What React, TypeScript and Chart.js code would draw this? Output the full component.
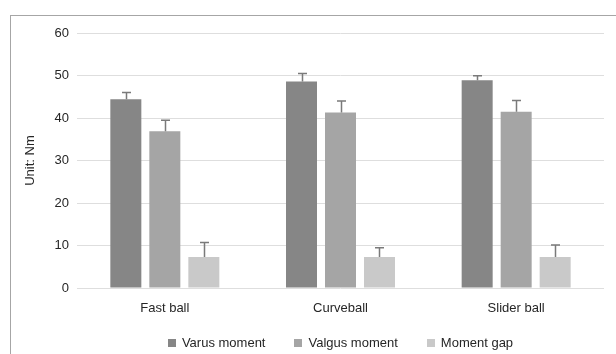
import React, { useEffect, useRef } from "react";
import { Chart, registerables } from "chart.js";

Chart.register(...registerables);

const categories = ["Fast ball", "Curveball", "Slider ball"];
const seriesNames = ["Varus moment", "Valgus moment", "Moment gap"];
const varusValues = [44.4, 48.6, 48.9];
const valgusValues = [36.9, 41.3, 41.5];
const gapValues = [7.3, 7.3, 7.3];
const varusErrors = [1.6, 1.9, 1.05];
const valgusErrors = [2.6, 2.7, 2.6];
const gapErrors = [3.4, 2.2, 2.8];
const yTicks = [0, 10, 20, 30, 40, 50, 60];
const yTitle = "Unit: Nm";

const colors = ["#868686", "#a5a5a5", "#c9c9c9"];
const FONT = "'Liberation Sans', Arial, sans-serif";
const TEXT = "#262626";

const errorBarPlugin = {
  id: "errorBars",
  afterDatasetsDraw(chart: any) {
    const ctx = chart.ctx;
    const y = chart.scales.y;
    ctx.save();
    ctx.strokeStyle = "#7a7a7a";
    ctx.lineWidth = 1.5;
    chart.data.datasets.forEach((ds: any, i: number) => {
      const meta = chart.getDatasetMeta(i);
      meta.data.forEach((bar: any, j: number) => {
        const v = ds.data[j];
        const e = ds.errors[j];
        const x = Math.round(bar.x) + 0.5;
        const y0 = y.getPixelForValue(v);
        const y1 = y.getPixelForValue(v + e);
        ctx.beginPath();
        ctx.moveTo(x, y0);
        ctx.lineTo(x, y1);
        ctx.moveTo(x - 4.5, y1);
        ctx.lineTo(x + 4.5, y1);
        ctx.stroke();
      });
    });
    ctx.restore();
  },
};

const legendPlugin = {
  id: "customLegend",
  afterDraw(chart: any) {
    const ctx = chart.ctx;
    const area = chart.chartArea;
    ctx.save();
    ctx.font = `13px ${FONT}`;
    ctx.textBaseline = "middle";
    const box = 8;
    const gapBoxText = 6;
    const gapItems = 29;
    const items = chart.data.datasets.map((ds: any) => ({
      label: ds.label,
      color: ds.backgroundColor,
      w: box + gapBoxText + ctx.measureText(ds.label).width,
    }));
    const total =
      items.reduce((s: number, it: any) => s + it.w, 0) + gapItems * (items.length - 1);
    let x = (area.left + area.right) / 2 - total / 2;
    const cy = 343;
    items.forEach((it: any) => {
      ctx.fillStyle = it.color;
      ctx.fillRect(Math.round(x), cy - box / 2, box, box);
      ctx.fillStyle = TEXT;
      ctx.fillText(it.label, x + box + gapBoxText, cy);
      x += it.w + gapItems;
    });
    ctx.restore();
  },
};

export default function App() {
  const ref = useRef<HTMLCanvasElement | null>(null);

  useEffect(() => {
    document.body.style.margin = "0";
    const canvas = ref.current;
    if (!canvas) return;
    const chart = new Chart(canvas, {
      type: "bar",
      data: {
        labels: categories,
        datasets: [
          { label: seriesNames[0], data: varusValues, errors: varusErrors, backgroundColor: colors[0] } as any,
          { label: seriesNames[1], data: valgusValues, errors: valgusErrors, backgroundColor: colors[1] } as any,
          { label: seriesNames[2], data: gapValues, errors: gapErrors, backgroundColor: colors[2] } as any,
        ],
      },
      options: {
        animation: false,
        responsive: false,
        maintainAspectRatio: false,
        devicePixelRatio: 1,
        layout: { padding: { left: 23, right: 12, top: 33, bottom: 30 } },
        datasets: {
          bar: { barPercentage: 0.795, categoryPercentage: 0.666 },
        },
        plugins: {
          legend: { display: false },
          tooltip: { enabled: false },
        },
        scales: {
          x: {
            grid: { display: false },
            border: { display: false },
            ticks: {
              padding: 5,
              color: TEXT,
              font: { family: FONT, size: 13 },
            },
            afterFit: (s: any) => {
              s.height = 36;
            },
          },
          y: {
            min: 0,
            max: 60,
            afterBuildTicks: (s: any) => {
              s.ticks = yTicks.map((v) => ({ value: v }));
            },
            grid: { color: "#dedede", lineWidth: 1, drawTicks: false },
            border: { display: false },
            ticks: {
              padding: 8,
              color: TEXT,
              font: { family: FONT, size: 13 },
            },
            title: {
              display: true,
              text: yTitle,
              color: TEXT,
              font: { family: FONT, size: 13 },
              padding: { top: 0, bottom: 15 },
            },
            afterFit: (s: any) => {
              s.width = 54;
            },
          },
        },
      },
      plugins: [errorBarPlugin, legendPlugin],
    });
    return () => chart.destroy();
  }, []);

  return (
    <div style={{ position: "relative", width: 616, height: 354, overflow: "hidden", background: "#fff" }}>
      <canvas ref={ref} width={616} height={354} style={{ position: "absolute", left: 0, top: 0 }} />
      <div
        style={{
          position: "absolute",
          left: 10,
          top: 15,
          width: 616,
          height: 400,
          borderLeft: "1px solid #a6a6a6",
          borderTop: "1px solid #a6a6a6",
          pointerEvents: "none",
        }}
      />
    </div>
  );
}
